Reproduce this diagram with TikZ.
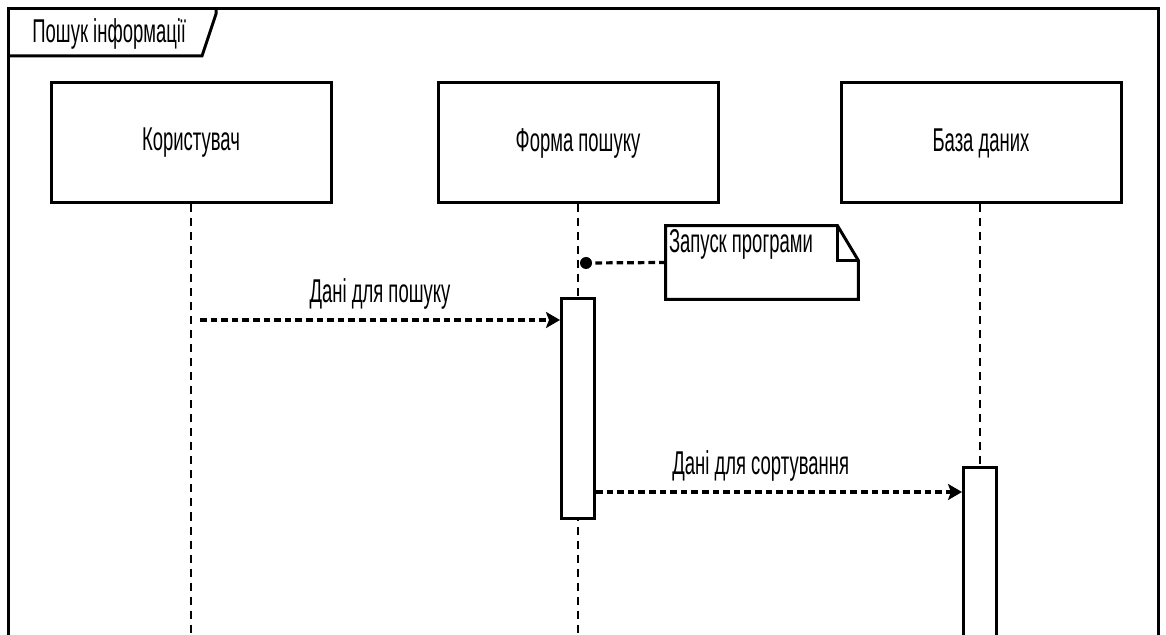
\documentclass[tikz,border=0pt]{standalone}
\usepackage{fontspec}
\setmainfont[FakeStretch=0.56]{Liberation Sans}
\usetikzlibrary{positioning, arrows.meta}

\begin{document}
\begin{tikzpicture}[x=0.5pt, y=-0.5pt, >={Stealth[length=7pt, width=8pt, inset=1.5pt]},
    every node/.style={font=\fontsize{16.5}{19}\selectfont},
    lifebox/.style={draw, line width=1.5pt, minimum width=140pt, minimum height=60pt},
    actbox/.style={draw, fill=white, line width=1.5pt, minimum width=16.5pt, inner sep=0pt},
    lifeline/.style={line width=1.3pt, dash pattern=on 4pt off 3pt},
    msg/.style={line width=1.6pt, dash pattern=on 3.3pt off 2pt}]
                \useasboundingbox (0,0) rectangle (1166,635);

                \draw[line width=1.5pt] (8,640) -- (8,9) -- (1158,9) -- (1158,640);
                \draw[line width=1.5pt] (8,56) -- (202,56) -- (216,14) -- (216,9);
                \node[anchor=west, inner sep=0pt] (title) at (32,34) {Пошук інформації};

                \node[lifebox] (user) at (191,143) {Користувач};
                \node[lifebox] (form) at (578,143) {Форма пошуку};
                \node[lifebox] (db) at (981,143) {База даних};

                \coordinate (userend) at (191,640);
                \coordinate (formend) at (578,640);
                \coordinate (dbend) at (980,640);
                \draw[lifeline] (user.south) -- (userend);
                \draw[lifeline] (form.south) -- (formend);
                \draw[lifeline] (db.south -| dbend) -- (dbend);

                \node[actbox, minimum height=109.5pt] (formact) at (578,408.5) {};
                \node[actbox, minimum height=92pt] (dbact) at (980,560) {};

                \node[minimum width=96pt, minimum height=36.5pt, inner sep=0pt] (note) at (762,262.5) {};
                \draw[line width=1.5pt] (note.south west) -- (note.north west)
                    -- ([xshift=-10.5pt]note.north east) -- ([yshift=-17.5pt]note.north east)
                    -- (note.south east) -- cycle;
                \draw[line width=1.2pt] ([xshift=-10.5pt]note.north east)
                    -- ([xshift=-10.5pt, yshift=-17.5pt]note.north east)
                    -- ([yshift=-17.5pt]note.north east);
                \node[anchor=north west, inner sep=1.5pt] (notetext) at (note.north west) {Запуск програми};

                \node[circle, fill, inner sep=0pt, minimum size=6pt] (dot) at (586,263) {};
                \draw[msg] (note.west) -- (dot);

                \coordinate (m1) at (200,320);
                \draw[msg, ->] (m1) -- (m1 -| formact.west) node[midway, above=1pt] {Дані для пошуку};

                \coordinate (m2) at (596,492);
                \draw[msg, ->] (m2) -- (m2 -| dbact.west) node[pos=0.45, above=1pt] {Дані для сортування};
            \end{tikzpicture}
\end{document}
